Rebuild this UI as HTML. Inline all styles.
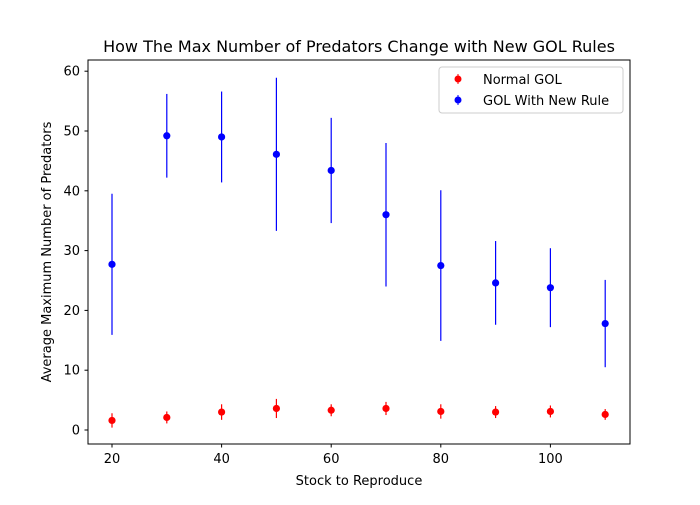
<!DOCTYPE html>
<html><head><meta charset="utf-8"><style>
body{margin:0;background:#fff}
svg text{font-family:"DejaVu Sans","Liberation Sans",sans-serif;fill:#000}
</style></head><body>
<svg id="chart" width="700" height="500" xmlns="http://www.w3.org/2000/svg">
<text x="359" y="52" font-size="16" text-anchor="middle">How The Max Number of Predators Change with New GOL Rules</text>
<g id="plot"></g>
<rect x="88" y="60" width="542" height="384" fill="none" stroke="#000" stroke-width="1"/>
<text x="359" y="485" font-size="13" text-anchor="middle">Stock to Reproduce</text>
<text transform="translate(51,252) rotate(-90)" font-size="13" text-anchor="middle">Average Maximum Number of Predators</text>
<g>
<rect x="439" y="67" width="184" height="46" rx="3" fill="#fff" stroke="#ccc"/>
<line x1="458" y1="74" x2="458" y2="84" stroke="red"/><circle cx="458" cy="79" r="3.5" fill="red"/>
<text x="483" y="84" font-size="13">Normal GOL</text>
<line x1="458" y1="95" x2="458" y2="105" stroke="blue"/><circle cx="458" cy="100" r="3.5" fill="blue"/>
<text x="483" y="105" font-size="13">GOL With New Rule</text>
</g>
</svg>
<script>
const categories=[20,30,40,50,60,70,80,90,100,110];
const normalValues=[1.6,2.1,3.0,3.6,3.3,3.6,3.1,3.0,3.1,2.6];
const normalErrors=[1.2,1.0,1.3,1.6,1.0,1.1,1.2,1.0,1.0,0.9];
const newRuleValues=[27.7,49.2,49.0,46.1,43.4,36.0,27.5,24.6,23.8,17.8];
const newRuleErrors=[11.8,7.0,7.6,12.8,8.8,12.0,12.6,7.0,6.6,7.3];
const xTicks=[20,40,60,80,100];
const yTicks=[0,10,20,30,40,50,60];
const NS="http://www.w3.org/2000/svg";
const g=document.getElementById('plot');
const xs=v=>112+(v-20)*5.48;
const ys=v=>430-v*5.98;
function mk(t,a){const e=document.createElementNS(NS,t);for(const k in a)e.setAttribute(k,a[k]);g.appendChild(e);return e;}
xTicks.forEach(v=>{
 const l=mk('line',{x1:xs(v),x2:xs(v),y1:444,y2:447.5,stroke:'#000'});
 
 
 const t=mk('text',{x:xs(v),y:463,'font-size':13,'text-anchor':'middle'});t.textContent=v;
 
 
});
yTicks.forEach(v=>{
 const l=mk('line',{x1:84.5,x2:88,y1:ys(v),y2:ys(v),stroke:'#000'});
 
 
 const t=mk('text',{x:80,y:ys(v)+4.5,'font-size':13,'text-anchor':'end'});t.textContent=v;
 
 
});
function series(vals,errs,color,name){
 categories.forEach((c,i)=>{
  const l=mk('line',{x1:xs(c),x2:xs(c),y1:ys(vals[i]-errs[i]),y2:ys(vals[i]+errs[i]),stroke:color,'stroke-width':1.2});
  
  
  const p=mk('circle',{cx:xs(c),cy:ys(vals[i]),r:3.6,fill:color});
  
  
 });
}
series(normalValues,normalErrors,'red','normal-gol');
series(newRuleValues,newRuleErrors,'blue','new-rule-gol');
</script>
</body></html>
